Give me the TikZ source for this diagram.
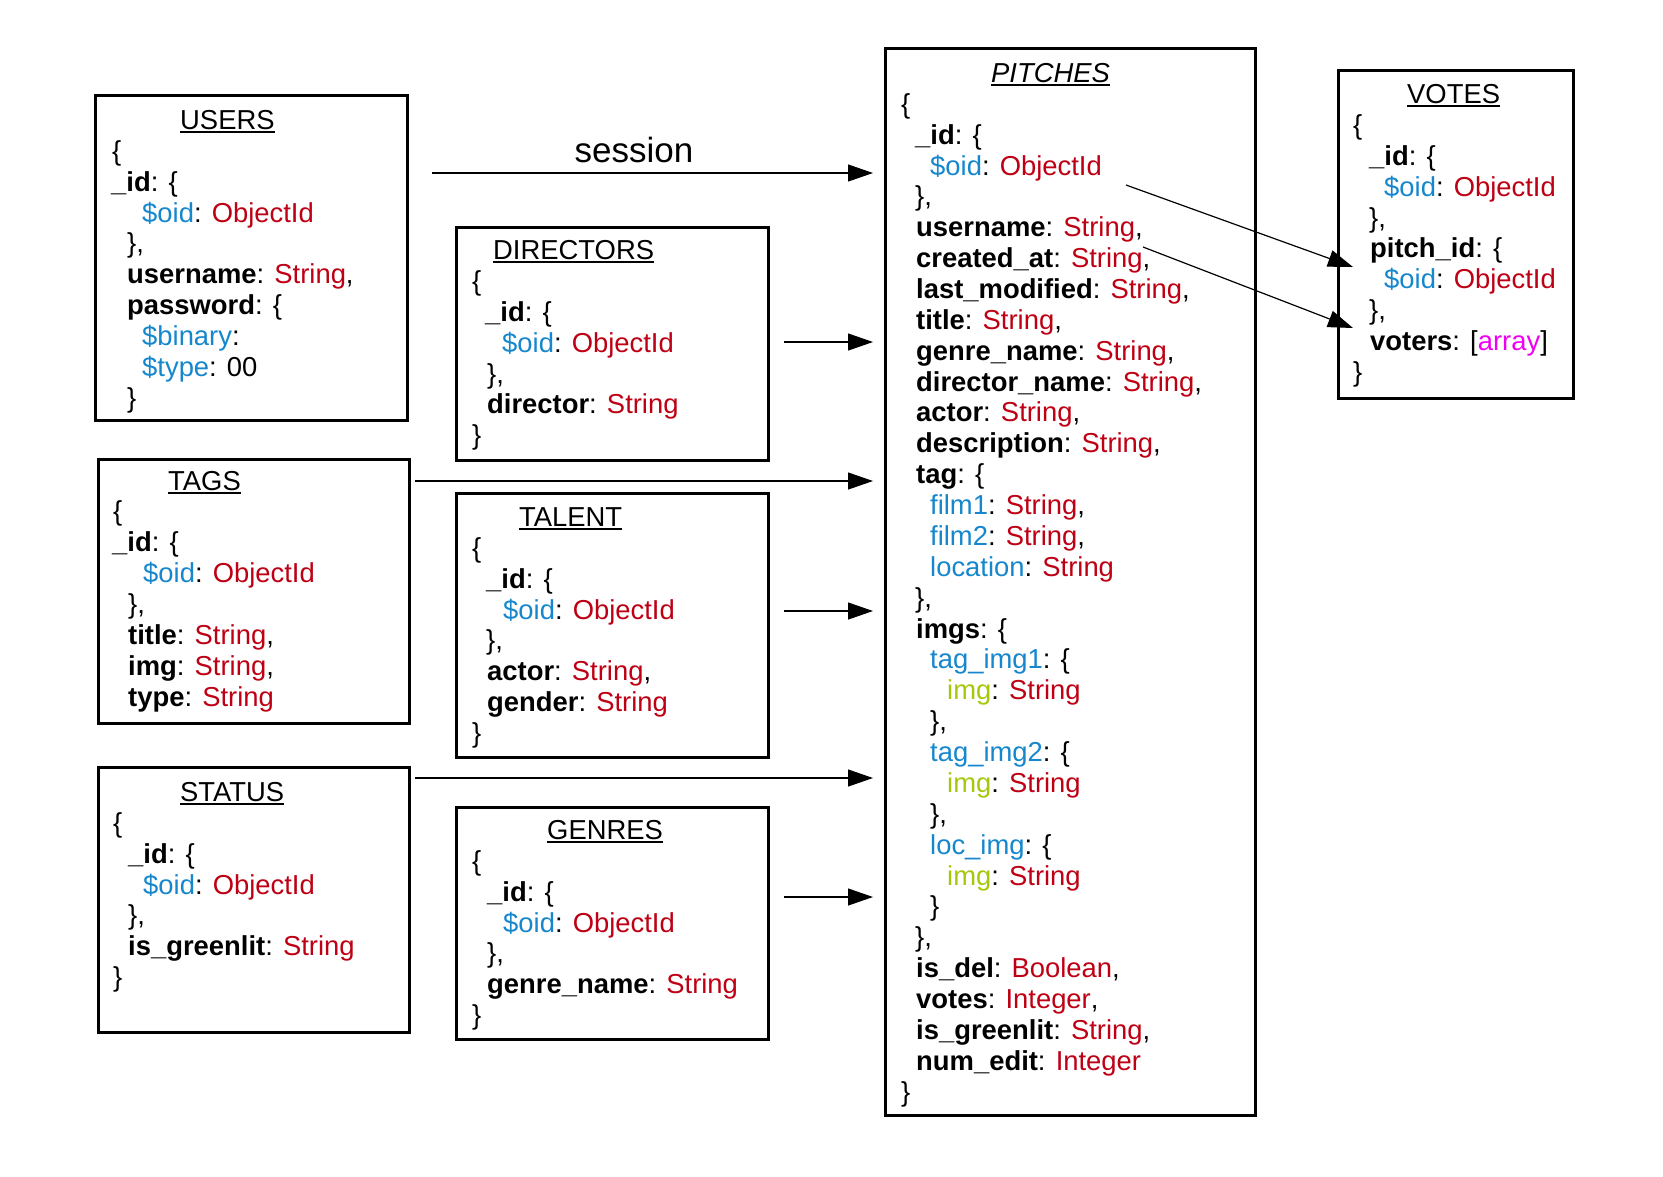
\documentclass[tikz,border=0pt]{standalone}
\usepackage{fontspec}
\setmainfont{Liberation Sans}
\usepackage{xcolor}
\usetikzlibrary{calc,arrows.meta}

\definecolor{oidblue}{RGB}{22,135,205}
\definecolor{typered}{RGB}{190,0,20}
\definecolor{imggreen}{RGB}{165,200,10}
\definecolor{arrpink}{RGB}{240,0,240}

\newcommand{\bkey}[1]{\textbf{#1}}
\newcommand{\skey}[1]{\textcolor{oidblue}{#1}}
\newcommand{\tval}[1]{\textcolor{typered}{#1}}
\newcommand{\gkey}[1]{\textcolor{imggreen}{#1}}
\newcommand{\mval}[1]{\textcolor{arrpink}{#1}}
\newsavebox{\ulinebox}
\newcommand{\uln}[1]{\sbox{\ulinebox}{#1}\rlap{\rule[-3.5pt]{\wd\ulinebox}{2pt}}\usebox{\ulinebox}}

\tikzset{
  coll/.style={draw, line width=3pt, inner sep=0pt, outer sep=0pt, anchor=north west},
  fld/.style={anchor=base west, inner sep=0pt},
  refarrow/.style={line width=1.2pt, -{Triangle[length=25pt,width=17pt]}},
}

\begin{document}
\begin{tikzpicture}[x=1pt,y=-1pt,font=\fontsize{27.4}{30.8}\selectfont]
\useasboundingbox (0,0) rectangle (1663,1176);

% collection boxes
\node[coll, minimum width=312pt, minimum height=325pt] (users) at (95,95) {};
\node[coll, minimum width=312pt, minimum height=233pt] (directors) at (456,227) {};
\node[coll, minimum width=311pt, minimum height=264pt] (tags) at (98,459) {};
\node[coll, minimum width=312pt, minimum height=264pt] (talent) at (456,493) {};
\node[coll, minimum width=311pt, minimum height=265pt] (status) at (98,767) {};
\node[coll, minimum width=312pt, minimum height=232pt] (genres) at (456,807) {};
\node[coll, minimum width=370pt, minimum height=1067pt] (pitches) at (885,48) {};
\node[coll, minimum width=235pt, minimum height=328pt] (votes) at (1338,70) {};

% USERS
\foreach \dx/\txt [count=\i from 0] in {180/{\uln{USERS}}, 112/{\{}, 111/{\bkey{\_id}: \{},
    142/{\skey{\$oid}: \tval{ObjectId}}, 127/{\},}, 127/{\bkey{username}: \tval{String},},
    127/{\bkey{password}: \{}, 142/{\skey{\$binary}:}, 142/{\skey{\$type}: 00}, 127/{\}}}
  \node[fld] (users-\i) at (\dx,{129.4+30.87*\i}) {\txt};

% DIRECTORS
\foreach \dx/\txt [count=\i from 0] in {493/{\uln{DIRECTORS}}, 472/{\{}, 485/{\bkey{\_id}: \{},
    502/{\skey{\$oid}: \tval{ObjectId}}, 487/{\},}, 487/{\bkey{director}: \tval{String}}, 472/{\}}}
  \node[fld] (directors-\i) at (\dx,{259.6+30.87*\i}) {\txt};

% TAGS
\foreach \dx/\txt [count=\i from 0] in {168/{\uln{TAGS}}, 113/{\{}, 112/{\bkey{\_id}: \{},
    143/{\skey{\$oid}: \tval{ObjectId}}, 128/{\},}, 128/{\bkey{title}: \tval{String},},
    128/{\bkey{img}: \tval{String},}, 128/{\bkey{type}: \tval{String}}}
  \node[fld] (tags-\i) at (\dx,{490+30.87*\i}) {\txt};

% TALENT
\foreach \dx/\txt [count=\i from 0] in {519/{\uln{TALENT}}, 472/{\{}, 486/{\bkey{\_id}: \{},
    503/{\skey{\$oid}: \tval{ObjectId}}, 486/{\},}, 487/{\bkey{actor}: \tval{String},},
    487/{\bkey{gender}: \tval{String}}, 472/{\}}}
  \node[fld] (talent-\i) at (\dx,{526.5+30.87*\i}) {\txt};

% STATUS
\foreach \dx/\txt [count=\i from 0] in {180/{\uln{STATUS}}, 113/{\{}, 128/{\bkey{\_id}: \{},
    143/{\skey{\$oid}: \tval{ObjectId}}, 128/{\},}, 128/{\bkey{is\_greenlit}: \tval{String}}, 113/{\}}}
  \node[fld] (status-\i) at (\dx,{801.5+30.87*\i}) {\txt};

% GENRES
\foreach \dx/\txt [count=\i from 0] in {547/{\uln{GENRES}}, 472/{\{}, 487/{\bkey{\_id}: \{},
    503/{\skey{\$oid}: \tval{ObjectId}}, 487/{\},}, 487/{\bkey{genre\_name}: \tval{String}}, 472/{\}}}
  \node[fld] (genres-\i) at (\dx,{839.5+30.87*\i}) {\txt};

% PITCHES
\foreach \dx/\txt [count=\i from 0] in {991/{\uln{\textit{PITCHES}}}, 901/{\{}, 915/{\bkey{\_id}: \{},
    930/{\skey{\$oid}: \tval{ObjectId}}, 915/{\},},
    916/{\bkey{username}: \tval{String},}, 916/{\bkey{created\_at}: \tval{String},},
    916/{\bkey{last\_modified}: \tval{String},}, 916/{\bkey{title}: \tval{String},},
    916/{\bkey{genre\_name}: \tval{String},}, 916/{\bkey{director\_name}: \tval{String},},
    916/{\bkey{actor}: \tval{String},}, 916/{\bkey{description}: \tval{String},},
    916/{\bkey{tag}: \{}, 930/{\skey{film1}: \tval{String},}, 930/{\skey{film2}: \tval{String},},
    930/{\skey{location}: \tval{String}}, 915/{\},},
    916/{\bkey{imgs}: \{}, 930/{\skey{tag\_img1}: \{}, 947/{\gkey{img}: \tval{String}}, 930/{\},},
    930/{\skey{tag\_img2}: \{}, 947/{\gkey{img}: \tval{String}}, 930/{\},},
    930/{\skey{loc\_img}: \{}, 947/{\gkey{img}: \tval{String}}, 930/{\}}, 915/{\},},
    916/{\bkey{is\_del}: \tval{Boolean},}, 916/{\bkey{votes}: \tval{Integer},},
    916/{\bkey{is\_greenlit}: \tval{String},}, 916/{\bkey{num\_edit}: \tval{Integer}}, 901/{\}}}
  \node[fld] (pitches-\i) at (\dx,{82.4+30.87*\i}) {\txt};

% VOTES
\foreach \dx/\txt [count=\i from 0] in {1407/{\uln{VOTES}}, 1353/{\{}, 1369/{\bkey{\_id}: \{},
    1384/{\skey{\$oid}: \tval{ObjectId}}, 1369/{\},}, 1370/{\bkey{pitch\_id}: \{},
    1384/{\skey{\$oid}: \tval{ObjectId}}, 1369/{\},}, 1370/{\bkey{voters}: [\mval{array}]}, 1353/{\}}}
  \node[fld] (votes-\i) at (\dx,{103.6+30.87*\i}) {\txt};

% references into PITCHES
\node[font=\fontsize{35}{40}\selectfont, anchor=base] (session) at (634,162) {session};
\draw[refarrow] ($(users.north east)+(25,78)$) -- ($(pitches.north west)+(-12,125)$);
\draw[refarrow] ($(directors.north east)+(16,115)$) -- ($(pitches.north west)+(-12,294)$);
\draw[refarrow] ($(tags.north east)+(6,22)$) -- ($(pitches.north west)+(-12,433)$);
\draw[refarrow] ($(talent.north east)+(16,118)$) -- ($(pitches.north west)+(-12,563)$);
\draw[refarrow] ($(status.north east)+(6,11)$) -- ($(pitches.north west)+(-12,730)$);
\draw[refarrow] ($(genres.north east)+(16,90)$) -- ($(pitches.north west)+(-12,849)$);

% PITCHES into VOTES
\draw[refarrow] ($(pitches.north west)+(241,137)$) -- ($(votes.north west)+(15,197)$);
\draw[refarrow] ($(pitches.north west)+(258,199)$) -- ($(votes.north west)+(15,258)$);
\end{tikzpicture}
\end{document}
